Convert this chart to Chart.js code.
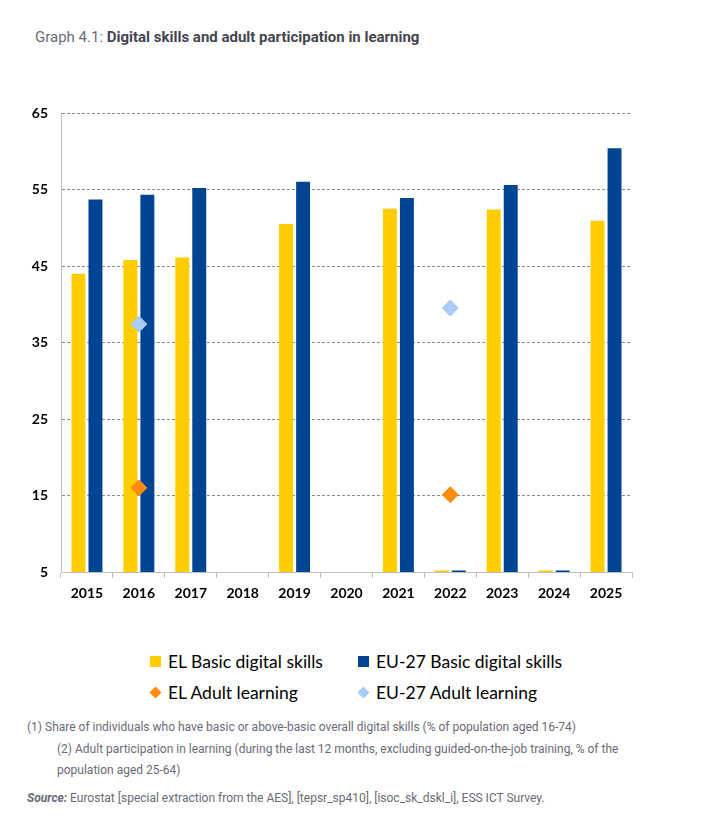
<!DOCTYPE html>
<html>
<head>
<meta charset="utf-8">
<script src="https://cdn.jsdelivr.net/npm/chart.js@4.4.1/dist/chart.umd.min.js"></script>
<style>
  body { margin: 0; background: #fff; width: 725px; height: 819px; position: relative; overflow: hidden; font-family: Roboto, "Noto Sans", sans-serif; }
  #title { position: absolute; left: 35px; top: 29px; line-height: 16px; font-size: 15px; color: #6a6a76; }
  #title b { color: #45454f; font-weight: 700; }
  #chart { position: absolute; left: 0; top: 100px; }
  #legend { position: absolute; left: 150px; top: 651px; font-family: Lato, sans-serif; font-size: 17.5px; color: #000; }
  .item { position: absolute; white-space: nowrap; line-height: 22px; }
  .mark { display: inline-block; width: 11px; height: 11px; margin-right: 7px; vertical-align: 1px; }
  .diamond { transform: rotate(45deg) scale(0.78); }
  .note { position: absolute; font-size: 12px; line-height: 16px; color: #6a6a76; white-space: nowrap; }
</style>
</head>
<body>
<div id="title">Graph 4.1: <b>Digital skills and adult participation in learning</b></div>
<canvas id="chart" width="650" height="520"></canvas>
<div id="legend"></div>
<div class="note" style="left:27px; top:719px;">(1) Share of individuals who have basic or above-basic overall digital skills (% of population aged 16-74)</div>
<div class="note" style="left:57px; top:741px;">(2) Adult participation in learning (during the last 12 months, excluding guided-on-the-job training, % of the</div>
<div class="note" style="left:57px; top:762px;">population aged 25-64)</div>
<div class="note" style="left:27px; top:790px;"><b><i>Source:</i></b> Eurostat [special extraction from the AES], [tepsr_sp410], [isoc_sk_dskl_i], ESS ICT Survey.</div>
<script>
const years = ['2015', '2016', '2017', '2018', '2019', '2020', '2021', '2022', '2023', '2024', '2025'];
const elDigital = [44.0, 45.8, 46.1, null, 50.5, null, 52.5, 5.2, 52.4, 5.2, 50.9];
const euDigital = [53.7, 54.3, 55.2, null, 56.0, null, 53.9, 5.2, 55.6, 5.2, 60.4];
const elLearning = [null, 16.0, null, null, null, null, null, 15.1, null, null, null];
const euLearning = [null, 37.4, null, null, null, null, null, 39.5, null, null, null];

const yellow = '#FFCC00';
const blue = '#004494';
const orange = '#FF8C0F';
const lightBlue = '#A9CCF7';

const ctx = document.getElementById('chart');
const chart = new Chart(ctx, {
    data: {
        labels: years,
        datasets: [
            {
                type: 'line',
                label: 'EL Adult learning',
                data: elLearning,
                showLine: false,
                pointStyle: 'rectRot',
                pointRadius: 8,
                pointBackgroundColor: orange,
                pointBorderColor: orange,
                backgroundColor: orange,
                order: 0
            },
            {
                type: 'line',
                label: 'EU-27 Adult learning',
                data: euLearning,
                showLine: false,
                pointStyle: 'rectRot',
                pointRadius: 8,
                pointBackgroundColor: lightBlue,
                pointBorderColor: lightBlue,
                backgroundColor: lightBlue,
                order: 0
            },
            {
                type: 'bar',
                label: 'EL Basic digital skills',
                data: elDigital,
                backgroundColor: yellow,
                categoryPercentage: 0.655,
                barPercentage: 0.82,
                order: 1
            },
            {
                type: 'bar',
                label: 'EU-27 Basic digital skills',
                data: euDigital,
                backgroundColor: blue,
                categoryPercentage: 0.655,
                barPercentage: 0.82,
                order: 1
            }
        ]
    },
    options: {
        responsive: false,
        animation: false,
        layout: { padding: { top: 13, right: 18, left: 0, bottom: 0 } },
        plugins: {
            legend: { display: false },
            tooltip: { enabled: false }
        },
        scales: {
            x: {
                offset: true,
                grid: {
                    offset: true,
                    drawOnChartArea: false,
                    drawTicks: true,
                    tickLength: 6,
                    color: '#bfbfbf'
                },
                border: { color: '#bfbfbf', width: 1 },
                ticks: {
                    color: '#000',
                    padding: 7,
                    font: { family: 'Lato', size: 14, weight: 'bold' }
                },
                afterFit: scale => { scale.height = 48; }
            },
            y: {
                min: 5,
                max: 65,
                grid: {
                    drawTicks: false,
                    color: c => c.tick && c.tick.value === 5 ? 'rgba(0,0,0,0)' : '#8c8c8c'
                },
                border: { color: '#bfbfbf', width: 1, dash: [3, 2] },
                ticks: {
                    stepSize: 10,
                    color: '#000',
                    padding: 13,
                    font: { family: 'Lato', size: 14, weight: 'bold' }
                },
                afterFit: scale => {
                    scale.width = 61;
                    scale.paddingTop = 0;
                    scale.paddingBottom = 0;
                }
            }
        }
    }
});

// legend in two rows, bars first then diamonds
const legendOrder = [2, 3, 0, 1];
const legend = document.getElementById('legend');
legendOrder.forEach((idx, i) => {
    const ds = chart.data.datasets[idx];
    const item = document.createElement('div');
    item.className = 'item';
    item.style.left = (i % 2 === 0 ? 0 : 208) + 'px';
    item.style.top = (i < 2 ? 0 : 31) + 'px';
    const mark = document.createElement('span');
    mark.className = ds.type === 'line' ? 'mark diamond' : 'mark';
    mark.style.background = ds.backgroundColor;
    item.appendChild(mark);
    item.appendChild(document.createTextNode(ds.label));
    legend.appendChild(item);
});
</script>
</body>
</html>
